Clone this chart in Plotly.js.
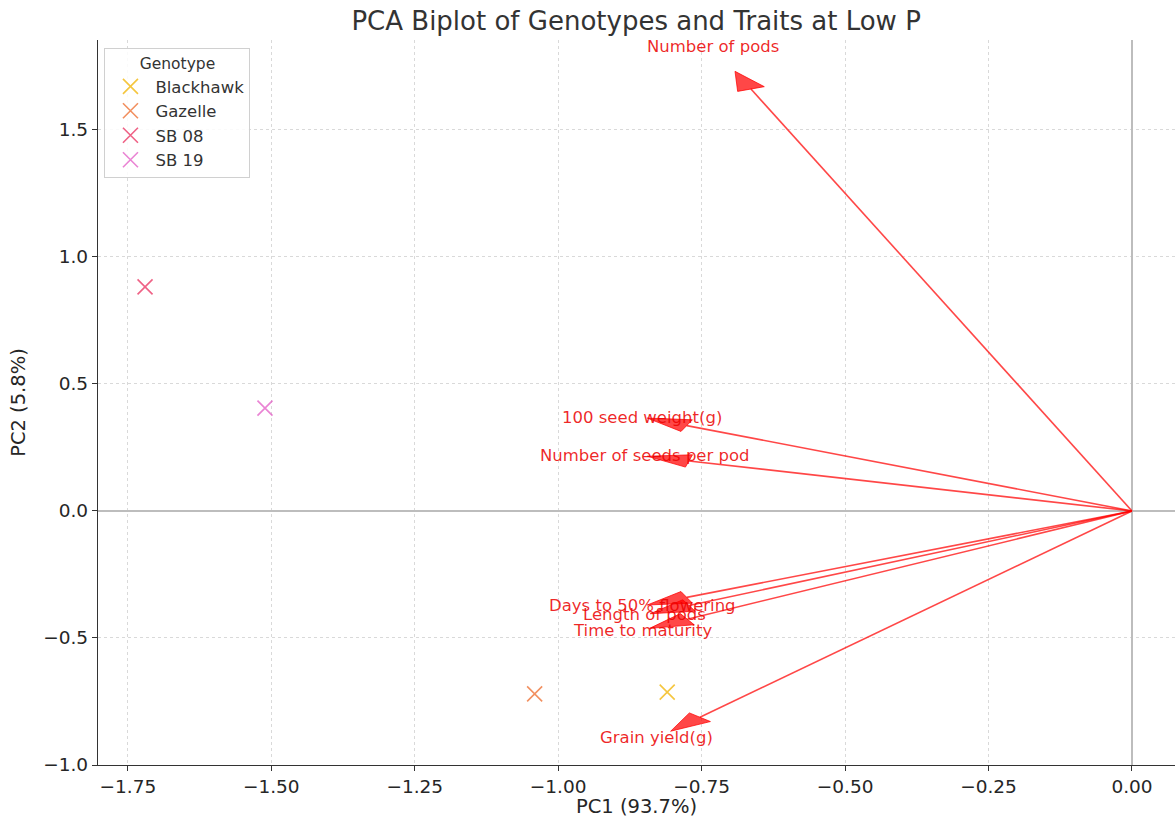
<!DOCTYPE html>
<html>
<head>
<meta charset="utf-8">
<script src="https://cdn.plot.ly/plotly-3.0.1.min.js"></script>
<style>html,body{margin:0;padding:0;background:#fff;}#chart{width:1175px;height:818px;}</style>
</head>
<body>
<div id="chart"></div>
<script>
// Genotype scores
const genotypes = ["Blackhawk", "Gazelle", "SB 08", "SB 19"];
const pc1Scores = [-0.810, -1.041, -1.720, -1.511];
const pc2Scores = [-0.713, -0.720, 0.882, 0.405];
const genoColors = ["#f2b400", "#ee6c2c", "#ea2e5e", "#e35cc6"];

// Trait loadings (arrow shaft end points)
const traits = ["Number of pods", "100 seed weight(g)", "Number of seeds per pod",
  "Days to 50% flowering", "Length of pods", "Time to maturity", "Grain yield(g)"];
const loadPC1 = [-0.664, -0.776, -0.772, -0.776, -0.772, -0.775, -0.753];
const loadPC2 = [1.661, 0.336, 0.197, -0.340, -0.372, -0.426, -0.812];

const FONT = "DejaVu Sans, Liberation Sans, sans-serif";
const headLen = 0.075, headWid = 0.05, labelScale = 1.1;
const arrowColor = "rgba(255,0,0,0.72)";

const traces = [];
// arrows
traits.forEach((t, i) => {
  const lx = loadPC1[i], ly = loadPC2[i];
  const len = Math.hypot(lx, ly);
  const ux = lx / len, uy = ly / len;
  const nx = -uy, ny = ux;
  traces.push({
    x: [0, lx], y: [0, ly], mode: "lines", type: "scatter",
    line: {color: arrowColor, width: 1.6}, showlegend: false, hoverinfo: "skip"
  });
  traces.push({
    x: [lx + nx * headWid / 2, lx + ux * headLen, lx - nx * headWid / 2, lx + nx * headWid / 2],
    y: [ly + ny * headWid / 2, ly + uy * headLen, ly - ny * headWid / 2, ly + ny * headWid / 2],
    mode: "lines", type: "scatter", fill: "toself", fillcolor: arrowColor,
    line: {color: arrowColor, width: 1}, showlegend: false, hoverinfo: "skip"
  });
});
// genotype points
genotypes.forEach((g, i) => {
  traces.push({
    x: [pc1Scores[i]], y: [pc2Scores[i]], mode: "markers", type: "scatter", name: g,
    marker: {symbol: "x-thin", size: 15, color: genoColors[i], opacity: 0.75,
             line: {color: genoColors[i], width: 1.6}}
  });
});

const annotations = traits.map((t, i) => ({
  x: loadPC1[i] * labelScale, y: loadPC2[i] * labelScale, text: t, showarrow: false,
  xanchor: "center", yanchor: "middle",
  font: {family: FONT, size: 16.5, color: "rgba(235,0,0,0.85)"}
}));

const layout = {
  width: 1175, height: 818,
  margin: {l: 98, r: 0, t: 40, b: 53},
  paper_bgcolor: "#fff", plot_bgcolor: "#fff",
  title: {text: "PCA Biplot of Genotypes and Traits at Low P", x: 0.5414, xanchor: "center",
          y: 0.975, yanchor: "middle", font: {family: FONT, size: 26, color: "#333"}},
  xaxis: {
    range: [-1.802, 0.075], tickvals: [-1.75, -1.5, -1.25, -1, -0.75, -0.5, -0.25, 0],
    tickformat: ".2f", ticks: "outside", ticklen: 5, tickcolor: "#333",
    showline: true, linecolor: "#333", linewidth: 1.2, mirror: false,
    showgrid: true, gridcolor: "#d0d0d0", griddash: "3px,3px", gridwidth: 0.8,
    zeroline: true, zerolinecolor: "#bdbdbd", zerolinewidth: 1.3,
    tickfont: {family: FONT, size: 18.5, color: "#262626"},
    title: {text: "PC1 (93.7%)", font: {family: FONT, size: 19.5, color: "#262626"}, standoff: 1}
  },
  yaxis: {
    range: [-1.0, 1.854], tickvals: [-1, -0.5, 0, 0.5, 1, 1.5],
    tickformat: ".1f", ticks: "outside", ticklen: 5, tickcolor: "#333",
    showline: true, linecolor: "#333", linewidth: 1.2, mirror: false,
    showgrid: true, gridcolor: "#d0d0d0", griddash: "3px,3px", gridwidth: 0.8,
    zeroline: true, zerolinecolor: "#bdbdbd", zerolinewidth: 1.3,
    tickfont: {family: FONT, size: 18.5, color: "#262626"},
    title: {text: "PC2 (5.8%)", font: {family: FONT, size: 19.5, color: "#262626"}, standoff: 12}
  },
  legend: {
    x: 0.006, y: 0.989, xanchor: "left", yanchor: "top",
    bgcolor: "rgba(255,255,255,0.85)", bordercolor: "#d0d0d0", borderwidth: 1,
    font: {family: FONT, size: 16.5, color: "#333"},
    title: {text: "Genotype", side: "top center", font: {family: FONT, size: 15.5, color: "#333"}},
    itemwidth: 40, tracegroupgap: 0
  },
  annotations: annotations,
  showlegend: true
};

Plotly.newPlot("chart", traces, layout, {displayModeBar: false, staticPlot: true});
</script>
</body>
</html>
